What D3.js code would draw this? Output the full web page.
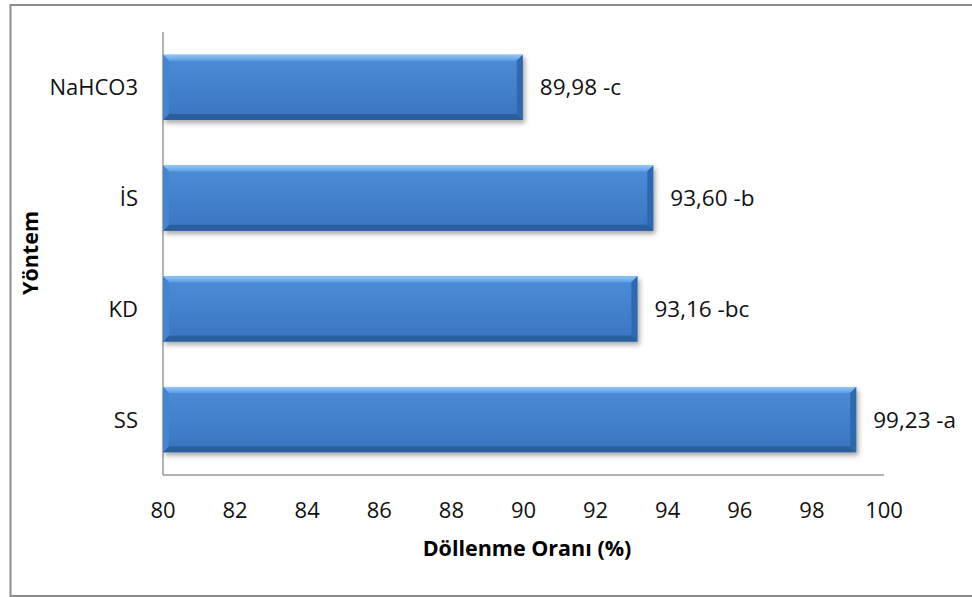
<!DOCTYPE html>
<html>
<head>
<meta charset="utf-8">
<script src="https://cdn.jsdelivr.net/npm/d3@7"></script>
<style>
  body { margin: 0; background: #fff; }
  svg text { font-family: "Open Sans", "Noto Sans", sans-serif; fill: #111; }
</style>
</head>
<body>
<div id="chart"></div>
<script>
// Döllenme oranı by yöntem
const categories = ["NaHCO3", "İS", "KD", "SS"]
const values = [89.98, 93.60, 93.16, 99.23]
const valueLabels = ["89,98 -c", "93,60 -b", "93,16 -bc", "99,23 -a"]
const xTicks = [80, 82, 84, 86, 88, 90, 92, 94, 96, 98, 100]

function renderBarChart(frame_id) {
    let width = 972
    let height = 597
    let margin = { top: 32, right: 88, bottom: 122, left: 163 }

    var svg = d3.select("#" + frame_id)
        .append("svg")
        .attr("width", width)
        .attr("height", height)

    // outer frame
    svg.append("path")
        .attr("d", "M 973 5 L 10.5 5 L 10.5 596 L 973 596")
        .attr("fill", "none")
        .attr("stroke", "#8c8c8c")
        .attr("stroke-width", 2)

    var defs = svg.append("defs")
    var grad = defs.append("linearGradient").attr("id", "barFill")
        .attr("x1", 0).attr("y1", 0).attr("x2", 0).attr("y2", 1)
    grad.append("stop").attr("offset", "0%").attr("stop-color", "#4d8dd8")
    grad.append("stop").attr("offset", "100%").attr("stop-color", "#3a74c0")
    var gradTop = defs.append("linearGradient").attr("id", "bevelTop")
        .attr("x1", 0).attr("y1", 0).attr("x2", 0).attr("y2", 1)
    gradTop.append("stop").attr("offset", "0%").attr("stop-color", "#92c6f6")
    gradTop.append("stop").attr("offset", "100%").attr("stop-color", "#5f9ee6")
    var shadow = defs.append("filter").attr("id", "shadow")
        .attr("x", "-5%").attr("y", "-20%").attr("width", "110%").attr("height", "150%")
    shadow.append("feDropShadow")
        .attr("dx", 2).attr("dy", 3).attr("stdDeviation", 2.5)
        .attr("flood-color", "#000").attr("flood-opacity", 0.35)

    var x = d3.scaleLinear()
        .domain([80, 100])
        .range([margin.left, width - margin.right])

    var y = d3.scaleBand()
        .domain(categories)
        .range([margin.top, height - margin.bottom])
        .paddingInner(0.41)
        .paddingOuter(0.205)

    // axes lines
    svg.append("line")
        .attr("x1", x(80)).attr("x2", x(80))
        .attr("y1", margin.top).attr("y2", height - margin.bottom)
        .attr("stroke", "#9a9a9a").attr("stroke-width", 1.5)
    svg.append("line")
        .attr("x1", x(80)).attr("x2", x(100))
        .attr("y1", height - margin.bottom).attr("y2", height - margin.bottom)
        .attr("stroke", "#9a9a9a").attr("stroke-width", 1.5)

    // x tick labels
    svg.selectAll("xtick")
        .data(xTicks)
        .enter()
        .append("text")
        .attr("x", d => x(d))
        .attr("y", 518)
        .attr("text-anchor", "middle")
        .style("font-size", "22px")
        .text(d => d)

    // category labels
    svg.selectAll("ylab")
        .data(categories)
        .enter()
        .append("text")
        .attr("x", 138)
        .attr("y", d => y(d) + y.bandwidth() / 2)
        .attr("dy", "0.36em")
        .attr("text-anchor", "end")
        .style("font-size", "22px")
        .text(d => d)

    // bars
    let b = 6
    let bars = svg.selectAll("bar")
        .data(categories)
        .enter()
        .append("g")
        .attr("filter", "url(#shadow)")

    bars.append("rect")
        .attr("x", x(80))
        .attr("y", d => y(d))
        .attr("width", (d, i) => x(values[i]) - x(80))
        .attr("height", y.bandwidth())
        .attr("fill", "url(#barFill)")

    bars.append("path")
        .attr("fill", "url(#bevelTop)")
        .attr("d", (d, i) => {
            let x0 = x(80), x1 = x(values[i]), y0 = y(d)
            return `M${x0},${y0}L${x1},${y0}L${x1 - b},${y0 + b}L${x0 + b},${y0 + b}Z`
        })
    bars.append("path")
        .attr("fill", "#2f67ad")
        .attr("d", (d, i) => {
            let x1 = x(values[i]), y0 = y(d), y1 = y(d) + y.bandwidth()
            return `M${x1},${y0}L${x1},${y1}L${x1 - b},${y1 - b}L${x1 - b},${y0 + b}Z`
        })
    bars.append("path")
        .attr("fill", "#2c5e9e")
        .attr("d", (d, i) => {
            let x0 = x(80), x1 = x(values[i]), y1 = y(d) + y.bandwidth()
            return `M${x0},${y1}L${x1},${y1}L${x1 - b},${y1 - b}L${x0 + b},${y1 - b}Z`
        })
    bars.append("path")
        .attr("fill", "#4684cf")
        .attr("d", (d, i) => {
            let x0 = x(80), y0 = y(d), y1 = y(d) + y.bandwidth()
            return `M${x0},${y0}L${x0 + b},${y0 + b}L${x0 + b},${y1 - b}L${x0},${y1}Z`
        })

    // value labels
    svg.selectAll("vlab")
        .data(categories)
        .enter()
        .append("text")
        .attr("x", (d, i) => x(values[i]) + 17)
        .attr("y", d => y(d) + y.bandwidth() / 2)
        .attr("dy", "0.36em")
        .style("font-size", "22.5px")
        .text((d, i) => valueLabels[i])

    // axis titles
    svg.append("text")
        .attr("x", 527)
        .attr("y", 556)
        .attr("text-anchor", "middle")
        .style("font-size", "21.5px")
        .style("font-weight", "bold")
        .style("fill", "#000")
        .text("Döllenme Oranı (%)")

    svg.append("text")
        .attr("transform", "translate(38,253) rotate(-90)")
        .attr("text-anchor", "middle")
        .style("font-size", "21.5px")
        .style("font-weight", "bold")
        .style("fill", "#000")
        .text("Yöntem")
}

renderBarChart("chart")
</script>
</body>
</html>
